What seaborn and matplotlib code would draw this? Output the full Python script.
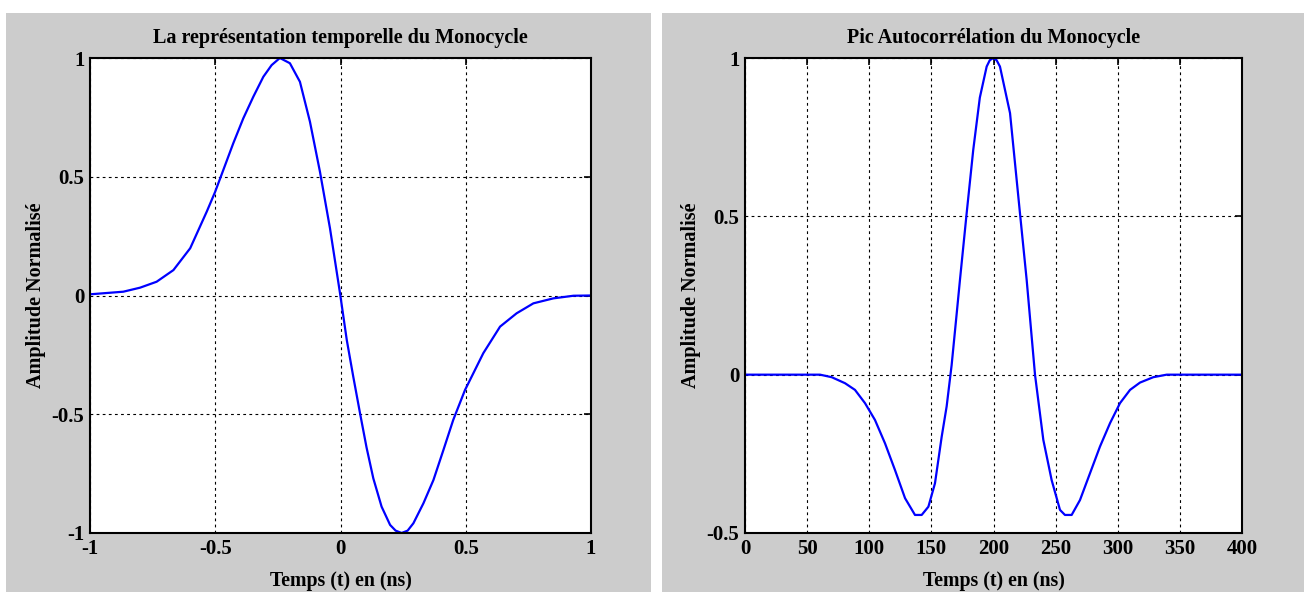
import numpy as np
import pandas as pd
import seaborn as sns
import matplotlib.pyplot as plt
from matplotlib.patches import Rectangle

# monocycle (left)
t_mono = [-1.0, -0.867, -0.80, -0.734, -0.667, -0.60, -0.534, -0.501, -0.468, -0.428,
          -0.388, -0.348, -0.308, -0.275, -0.242, -0.202, -0.162, -0.122, -0.082, -0.042,
          -0.002, 0.025, 0.051, 0.078, 0.104, 0.131, 0.164, 0.198, 0.22, 0.244,
          0.268, 0.291, 0.331, 0.371, 0.411, 0.45, 0.497, 0.53, 0.57, 0.637,
          0.703, 0.77, 0.85, 0.93, 1.0]
a_mono = [0.005, 0.016, 0.033, 0.058, 0.107, 0.199, 0.353, 0.435, 0.528, 0.641,
          0.746, 0.837, 0.921, 0.97, 1.0, 0.978, 0.90, 0.732, 0.521, 0.283,
          0.01, -0.187, -0.342, -0.496, -0.64, -0.77, -0.889, -0.966, -0.99, -1.0,
          -0.99, -0.959, -0.875, -0.777, -0.65, -0.524, -0.398, -0.328, -0.243, -0.131,
          -0.075, -0.033, -0.012, -0.001, 0.0]

# autocorrelation (right)
t_corr = [0, 20, 40, 60.4, 69.8, 80.5, 88.5, 96.6, 104.6, 112.7, 120.7, 128.8, 136.8, 142.2,
          147.6, 152.9, 158.3, 162.3, 166.3, 170.4, 173, 178.4, 183.7, 189, 194.5, 197,
          199.8, 202.5, 205.2, 213.3, 221.3, 226.7, 233.4, 240.1, 246.8, 253.5, 257.5, 262.9,
          269.6, 277.7, 285.7, 293.8, 301.8, 309.9, 317.9, 328.6, 339.4, 360, 380, 400]
a_corr = [0, 0, 0, 0, -0.008, -0.027, -0.048, -0.09, -0.143, -0.217, -0.301, -0.39, -0.443, -0.443,
          -0.417, -0.343, -0.196, -0.10, 0.03, 0.194, 0.299, 0.51, 0.71, 0.875, 0.973, 0.993,
          1.0, 0.993, 0.973, 0.826, 0.51, 0.299, 0.0, -0.206, -0.333, -0.427, -0.443, -0.443,
          -0.396, -0.311, -0.227, -0.153, -0.09, -0.048, -0.025, -0.008, 0, 0, 0, 0]

titles = ["La représentation temporelle du Monocycle", "Pic Autocorrélation du Monocycle"]
xlabel = "Temps (t) en (ns)"
ylabel = "Amplitude Normalisé"

sns.set_style("white")
plt.rcParams["font.family"] = ["Liberation Serif", "DejaVu Serif"]
plt.rcParams["font.weight"] = "bold"
plt.rcParams["text.color"] = "black"
plt.rcParams["axes.labelcolor"] = "black"
plt.rcParams["xtick.color"] = "black"
plt.rcParams["ytick.color"] = "black"

fig = plt.figure(figsize=(13.04, 5.92), dpi=100)
fig.patch.set_facecolor("white")
W, H = 1304, 592
grey = "#cccccc"
for x0, x1 in [(6, 651), (662, W)]:
    fig.add_artist(Rectangle((x0 / W, 0), (x1 - x0) / W, (H - 13) / H, transform=fig.transFigure,
                             facecolor=grey, edgecolor="none", zorder=-10))

ax1 = fig.add_axes([90 / W, 1 - 533 / H, (591 - 90) / W, (533 - 58) / H])
ax2 = fig.add_axes([745 / W, 1 - 533 / H, (1242 - 745) / W, (533 - 58) / H])

sns.lineplot(x=t_mono, y=a_mono, ax=ax1, color="#0000ff", lw=1.6)
sns.lineplot(x=t_corr, y=a_corr, ax=ax2, color="#0000ff", lw=1.6)

ax1.set_xlim(-1, 1)
ax1.set_ylim(-1, 1)
ax1.set_xticks([-1, -0.5, 0, 0.5, 1])
ax1.set_xticklabels(["-1", "-0.5", "0", "0.5", "1"])
ax1.set_yticks([-1, -0.5, 0, 0.5, 1])
ax1.set_yticklabels(["-1", "-0.5", "0", "0.5", "1"])

ax2.set_xlim(0, 400)
ax2.set_ylim(-0.5, 1)
ax2.set_xticks(range(0, 401, 50))
ax2.set_yticks([-0.5, 0, 0.5, 1])
ax2.set_yticklabels(["-0.5", "0", "0.5", "1"])

for ax, title in zip([ax1, ax2], titles):
    ax.set_facecolor("white")
    ax.grid(True, color="black", linestyle=(0, (2.5, 3)), linewidth=0.8)
    for s in ax.spines.values():
        s.set_visible(True)
        s.set_color("black")
        s.set_linewidth(1.5)
    ax.tick_params(direction="in", length=5, width=1.2, top=True, right=True,
                   labelsize=15, pad=4, colors="black")
    for lab in ax.get_xticklabels() + ax.get_yticklabels():
        lab.set_fontweight("bold")
    ax.set_title(title, fontsize=14.5, fontweight="bold", pad=11, color="black")
    ax.set_xlabel(xlabel, fontsize=14.3, fontweight="bold", labelpad=9)
    ax.set_ylabel(ylabel, fontsize=14.5, fontweight="bold", labelpad=4)

fig.savefig("out.png", dpi=100)
